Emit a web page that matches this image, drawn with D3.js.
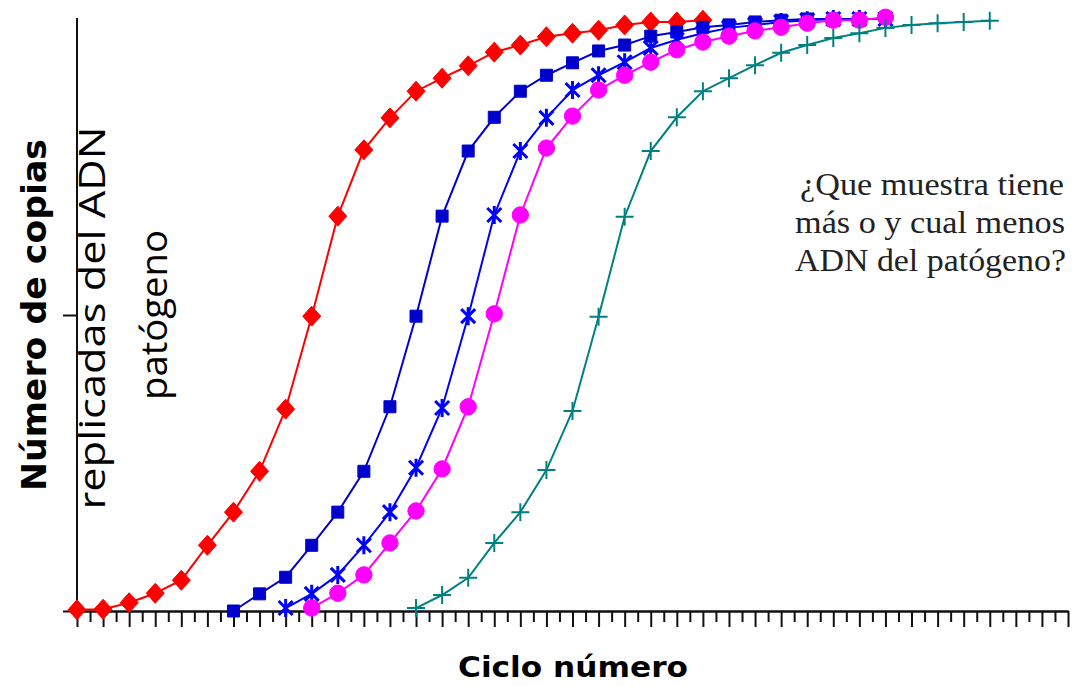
<!DOCTYPE html>
<html>
<head>
<meta charset="utf-8">
<script src="https://cdn.jsdelivr.net/npm/d3@7"></script>
<style>
  body { margin: 0; background: #fff; }
  svg { display: block; }
</style>
</head>
<body>
<div id="chart"></div>
<script>
// valores (0-100, escala arbitraria)
var rojo = [0.2, 0.3, 1.4, 3.0, 5.2, 11.1, 16.7, 23.6, 34.1, 49.8, 66.7, 77.9, 83.3,
            87.8, 90.0, 92.1, 94.4, 95.6, 97.0, 97.6, 98.1, 99.0, 99.5, 99.5, 99.8];
var azulCuadro = [0, 2.9, 5.7, 11.1, 16.7, 23.6, 34.5, 49.8, 66.7, 77.7, 83.4, 87.8, 90.5,
                  92.6, 94.6, 95.6, 97.1, 97.8, 98.6, 99.0, 99.5, 99.8, 100, 100, 100];
var azulEstrella = [0.5, 2.9, 6.1, 11.1, 16.7, 24.2, 34.3, 49.8, 66.9, 77.7, 83.3, 88.0,
                    90.5, 92.7, 95.1, 96.5, 97.6, 98.5, 99.0, 99.5, 99.8, 100, 100, 100];
var magenta = [0.5, 3.0, 6.1, 11.5, 16.9, 24.0, 34.5, 50.2, 66.9, 78.2, 83.6, 88.0, 90.5,
               92.7, 94.8, 96.1, 97.1, 98.0, 98.6, 99.3, 99.8, 99.8, 100.3];
var verde = [0.5, 2.7, 5.6, 11.5, 16.7, 23.8, 33.8, 49.7, 66.6, 77.7, 83.4, 87.8, 90.0,
             92.2, 94.3, 95.6, 96.8, 97.6, 98.5, 99.0, 99.3, 99.5, 99.7];
// ciclo en el que empieza cada muestra
var inicios = [0, 6, 8, 9, 13];
var colores = ["#ff0000", "#0000cc", "#0000ff", "#ff00ff", "#008080"];
var marcadores = ["rombo", "cuadro", "estrella", "circulo", "cruz"];
var ciclosMax = 38;
var yTicks = [0, 50];

var textoPregunta = ["¿Que muestra tiene", "más o y cual menos", "ADN del patógeno?"];

var WIDTH = 1077, HEIGHT = 686;
var svg = d3.select("#chart").append("svg")
    .attr("width", WIDTH).attr("height", HEIGHT);

var x = d3.scaleLinear().domain([0, ciclosMax]).range([77, 1068]);
var y = d3.scaleLinear().domain([0, 100]).range([611, 19]);

// ejes
var ejeX = svg.append("g").attr("transform", "translate(0," + y(0) + ")");
ejeX.call(d3.axisBottom(x).tickValues(d3.range(0, ciclosMax + 1)).tickFormat("").tickSize(16).tickSizeOuter(0));
ejeX.append("g").call(d3.axisBottom(x).tickValues(d3.range(0.5, ciclosMax, 1)).tickFormat("").tickSize(11).tickSizeOuter(0));

var ejeY = svg.append("g").attr("transform", "translate(" + x(0) + ",0)");
ejeY.call(d3.axisLeft(y).tickValues(yTicks).tickFormat("").tickSize(14).tickSizeOuter(0));
ejeY.select(".domain").attr("d", "M0," + y(0) + "V18");

svg.selectAll(".domain, .tick line")
    .attr("stroke", "#111").attr("stroke-width", 2);

// series
var series = [rojo, azulCuadro, azulEstrella, magenta, verde].map(function(vals, i){
    return {
        color: colores[i],
        marca: marcadores[i],
        puntos: vals.map(function(v, j){ return {c: inicios[i] + j, v: v}; })
    };
});

var linea = d3.line().x(function(d){ return x(d.c); }).y(function(d){ return y(d.v); });

function formaMarca(tipo){
    if (tipo === "rombo") return "M0,-10L9,0L0,10L-9,0Z";
    if (tipo === "cuadro") return "M-6,-6H6V6H-6Z";
    if (tipo === "circulo") return d3.symbol(d3.symbolCircle, 210)();
    if (tipo === "estrella") return "M-7,-7L7,7M-7,7L7,-7M0,-9V9";
    return "M-9,0H9M0,-9V9";
}

series.forEach(function(s){
    var g = svg.append("g");
    g.append("path").datum(s.puntos)
        .attr("d", linea)
        .attr("fill", "none")
        .attr("stroke", s.color)
        .attr("stroke-width", 2);
    var lleno = (s.marca === "rombo" || s.marca === "cuadro" || s.marca === "circulo");
    g.selectAll("path.marca").data(s.puntos).enter().append("path")
        .attr("class", "marca")
        .attr("transform", function(d){ return "translate(" + x(d.c) + "," + y(d.v) + ")"; })
        .attr("d", formaMarca(s.marca))
        .attr("fill", lleno ? s.color : "none")
        .attr("stroke", s.color)
        .attr("stroke-width", lleno ? 1 : (s.marca === "estrella" ? 3 : 2));
});

// titulos
svg.append("text")
    .attr("transform", "translate(46,315) rotate(-90)")
    .attr("text-anchor", "middle")
    .attr("font-family", "DejaVu Sans")
    .attr("font-weight", "bold")
    .attr("font-size", 33)
    .attr("textLength", 352)
    .attr("lengthAdjust", "spacingAndGlyphs")
    .text("Número de copias");

svg.append("text")
    .attr("transform", "translate(105,318) rotate(-90)")
    .attr("text-anchor", "middle")
    .attr("font-family", "Open Sans")
    .attr("font-size", 37)
    .attr("textLength", 383)
    .attr("lengthAdjust", "spacingAndGlyphs")
    .text("replicadas del ADN");

svg.append("text")
    .attr("transform", "translate(167,315) rotate(-90)")
    .attr("text-anchor", "middle")
    .attr("font-family", "Open Sans")
    .attr("font-size", 37)
    .attr("textLength", 170)
    .attr("lengthAdjust", "spacingAndGlyphs")
    .text("patógeno");

svg.append("text")
    .attr("x", 573).attr("y", 677)
    .attr("text-anchor", "middle")
    .attr("font-family", "DejaVu Sans")
    .attr("font-weight", "bold")
    .attr("font-size", 29)
    .attr("textLength", 230)
    .attr("lengthAdjust", "spacingAndGlyphs")
    .text("Ciclo número");

var lineasX = [800, 795, 795];
var anchos = [264, 270, 271];
svg.selectAll("text.pregunta").data(textoPregunta).enter().append("text")
    .attr("class", "pregunta")
    .attr("x", function(d, i){ return lineasX[i]; })
    .attr("y", function(d, i){ return 195 + i * 38; })
    .attr("font-family", "Liberation Serif")
    .attr("font-size", 31)
    .attr("fill", "#222")
    .attr("textLength", function(d, i){ return anchos[i]; })
    .attr("lengthAdjust", "spacingAndGlyphs")
    .text(function(d){ return d; });
</script>
</body>
</html>
